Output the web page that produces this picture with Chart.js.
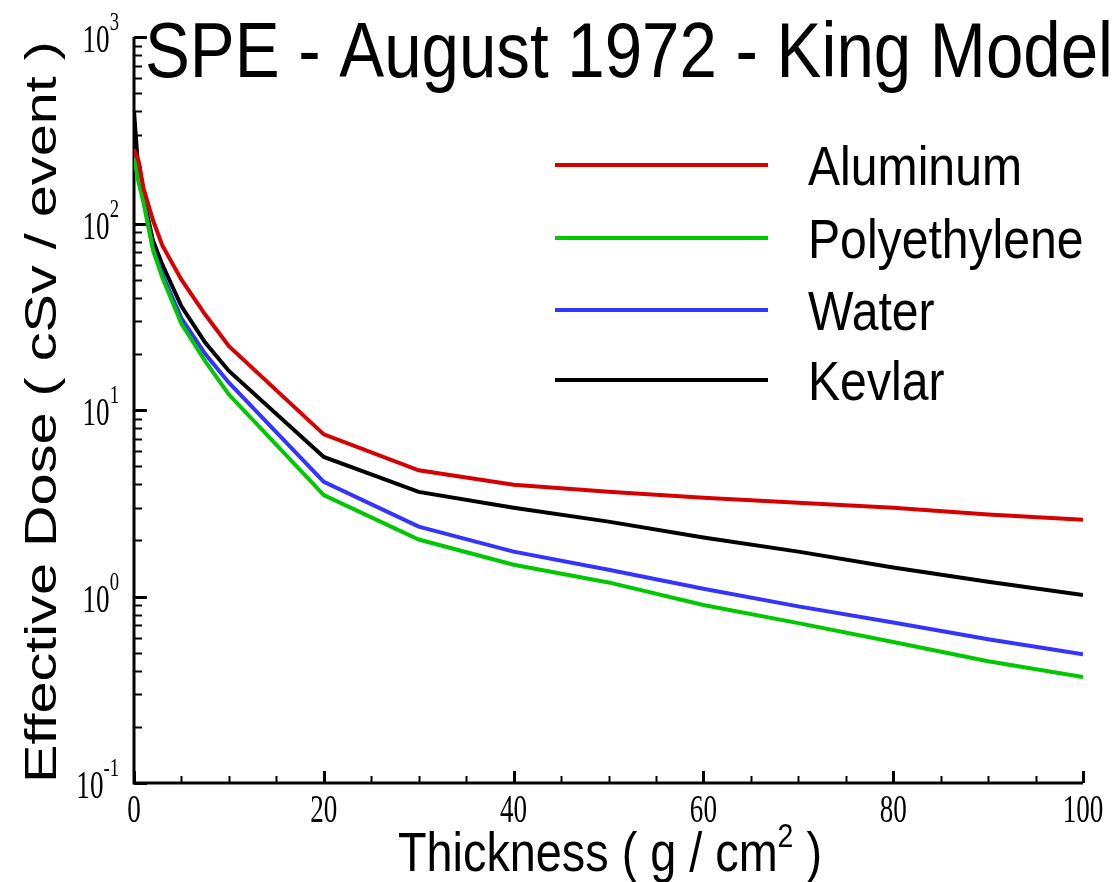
<!DOCTYPE html>
<html>
<head>
<meta charset="utf-8">
<title>SPE - August 1972 - King Model</title>
<script src="https://cdn.jsdelivr.net/npm/chart.js@4.4.1/dist/chart.umd.min.js"></script>
<style>
  html, body { margin: 0; padding: 0; background: #ffffff; }
  #wrap { width: 1119px; height: 882px; }
  canvas { display: block; }
</style>
</head>
<body>
<div id="wrap"><canvas id="c" width="1119" height="882"></canvas></div>
<script>
// ---- data ----
const thickness    = [0, 0.5, 1, 2, 3, 5, 7.5, 10, 20, 30, 40, 50, 60, 70, 80, 90, 100];
const aluminum     = [250, 215, 155, 104, 76, 50, 32.5, 22, 7.4, 4.75, 3.97, 3.64, 3.38, 3.18, 2.99, 2.75, 2.58];
const polyethylene = [225, 165, 130, 72, 51, 29, 18.3, 12.1, 3.5, 2.02, 1.48, 1.19, 0.90, 0.72, 0.57, 0.45, 0.37];
const water        = [230, 170, 133, 74, 53, 31, 20, 14.0, 4.12, 2.37, 1.74, 1.39, 1.10, 0.885, 0.726, 0.59, 0.49];
const kevlar       = [400, 180, 138, 81, 60, 36, 23, 16.2, 5.6, 3.64, 2.99, 2.52, 2.07, 1.74, 1.43, 1.20, 1.02];
const seriesNames  = ['Aluminum', 'Polyethylene', 'Water', 'Kevlar'];
const xTickValues  = [0, 20, 40, 60, 80, 100];
const yTickExponents = [-1, 0, 1, 2, 3];
const chartTitle   = 'SPE - August 1972 - King Model';
const yAxisTitle   = 'Effective Dose ( cSv / event )';
const xAxisTitleMain = 'Thickness ( g / cm';
const xAxisTitleSup  = '2';
const xAxisTitleEnd  = ' )';

const seriesValues = [aluminum, polyethylene, water, kevlar];
const seriesColors = ['#d70000', '#00c800', '#3434ff', '#000000'];

const datasets = seriesNames.map((name, i) => ({
  label: name,
  data: thickness.map((t, j) => ({ x: t, y: seriesValues[i][j] })),
  borderColor: seriesColors[i],
  backgroundColor: seriesColors[i],
  borderWidth: 4,
  pointRadius: 0,
  tension: 0,
  fill: false
}));

function drawScaled(ctx, text, x, y, font, sx, align, baseline) {
  ctx.save();
  ctx.font = font;
  ctx.textAlign = align || 'left';
  ctx.textBaseline = baseline || 'alphabetic';
  ctx.translate(x, y);
  ctx.scale(sx, 1);
  ctx.fillText(text, 0, 0);
  ctx.restore();
}
function textW(ctx, text, font) { ctx.save(); ctx.font = font; const w = ctx.measureText(text).width; ctx.restore(); return w; }

const decor = {
  id: 'decor',
  beforeDatasetsDraw(chart) {
    const ctx = chart.ctx, xs = chart.scales.x, ys = chart.scales.y, a = chart.chartArea;
    ctx.save();
    ctx.strokeStyle = '#000';
    // minor/major ticks on y (inside)
    for (let e = -1; e <= 2; e++) {
      for (let k = 1; k <= 9; k++) {
        const py = Math.round(ys.getPixelForValue(k * Math.pow(10, e))) + 0.5;
        ctx.lineWidth = k === 1 ? 3 : 2;
        ctx.beginPath(); ctx.moveTo(a.left, py); ctx.lineTo(a.left + (k === 1 ? 13 : 8), py); ctx.stroke();
      }
    }
    { const py = Math.round(ys.getPixelForValue(1000)) + 0.5; ctx.lineWidth = 3;
      ctx.beginPath(); ctx.moveTo(a.left, py); ctx.lineTo(a.left + 13, py); ctx.stroke(); }
    // ticks on x (inside)
    for (let t = 0; t <= 100; t += 5) {
      const px = Math.round(xs.getPixelForValue(t)) + 0.5;
      const major = t % 20 === 0;
      ctx.lineWidth = major ? 3 : 2;
      ctx.beginPath(); ctx.moveTo(px, a.bottom); ctx.lineTo(px, a.bottom - (major ? 12 : 7)); ctx.stroke();
    }
    // axis lines
    ctx.lineWidth = 3;
    ctx.beginPath();
    ctx.moveTo(a.left, a.top); ctx.lineTo(a.left, a.bottom); ctx.lineTo(a.right, a.bottom);
    ctx.stroke();
    ctx.restore();
  },
  afterDraw(chart) {
    const ctx = chart.ctx, xs = chart.scales.x, ys = chart.scales.y;
    ctx.save();
    ctx.fillStyle = '#000';
    // title
    const tFont = '78px "Liberation Sans", Arial, sans-serif';
    drawScaled(ctx, chartTitle, 145, 77, tFont, 968 / textW(ctx, chartTitle, tFont), 'left');

    // y tick labels 10^e
    const bigF = '41px "Liberation Serif", "Times New Roman", serif';
    const supF = '26px "Liberation Serif", "Times New Roman", serif';
    const sxT = 0.66;
    yTickExponents.forEach(e => {
      const py = ys.getPixelForValue(Math.pow(10, e));
      const sup = String(e);
      const sw = textW(ctx, sup, supF) * 0.72;
      drawScaled(ctx, sup, 119, py - 7, supF, 0.72, 'right');
      drawScaled(ctx, '10', 119 - sw, py + 15, bigF, sxT, 'right');
    });
    // x tick labels
    xTickValues.forEach(v => {
      const px = xs.getPixelForValue(v);
      drawScaled(ctx, String(v), px, 822, bigF, sxT, 'center');
    });

    // x axis title with superscript
    const xF = '56px "Liberation Sans", Arial, sans-serif';
    const xSupF = '34px "Liberation Sans", Arial, sans-serif';
    const w1 = textW(ctx, xAxisTitleMain, xF), w2 = textW(ctx, xAxisTitleSup, xSupF), w3 = textW(ctx, xAxisTitleEnd, xF);
    const sxX = 424 / (w1 + w2 + w3);
    let cx = 398;
    drawScaled(ctx, xAxisTitleMain, cx, 871, xF, sxX, 'left'); cx += w1 * sxX;
    drawScaled(ctx, xAxisTitleSup, cx, 847, xSupF, sxX, 'left'); cx += w2 * sxX;
    drawScaled(ctx, xAxisTitleEnd, cx, 871, xF, sxX, 'left');

    // y axis title (rotated)
    const yF = '56px "Liberation Sans", Arial, sans-serif';
    const yw = textW(ctx, yAxisTitle, yF);
    ctx.save();
    ctx.font = yF; ctx.textAlign = 'center'; ctx.textBaseline = 'alphabetic';
    ctx.translate(56, 412);
    ctx.rotate(-Math.PI / 2);
    ctx.scale(742 / yw, 0.8);
    ctx.fillText(yAxisTitle, 0, 0);
    ctx.restore();

    // legend
    const lF = '56px "Liberation Sans", Arial, sans-serif';
    const sxL = 214 / textW(ctx, seriesNames[0], lF);
    const legendY = [165, 238, 310, 380];
    chart.data.datasets.forEach((ds, i) => {
      const y = legendY[i];
      ctx.strokeStyle = ds.borderColor; ctx.lineWidth = 4;
      ctx.beginPath(); ctx.moveTo(555, y); ctx.lineTo(768, y); ctx.stroke();
      ctx.fillStyle = '#000';
      drawScaled(ctx, ds.label, 808, y + 20, lF, sxL, 'left');
    });
    ctx.restore();
  }
};

new Chart(document.getElementById('c'), {
  type: 'line',
  data: { datasets },
  options: {
    responsive: false,
    devicePixelRatio: 1,
    animation: false,
    layout: { padding: { left: 134, right: 36, top: 37, bottom: 99 } },
    plugins: { legend: { display: false }, title: { display: false }, tooltip: { enabled: false } },
    scales: {
      x: { type: 'linear', min: 0, max: 100, display: false },
      y: { type: 'logarithmic', min: 0.1, max: 1000, display: false }
    }
  },
  plugins: [decor]
});
</script>
</body>
</html>
